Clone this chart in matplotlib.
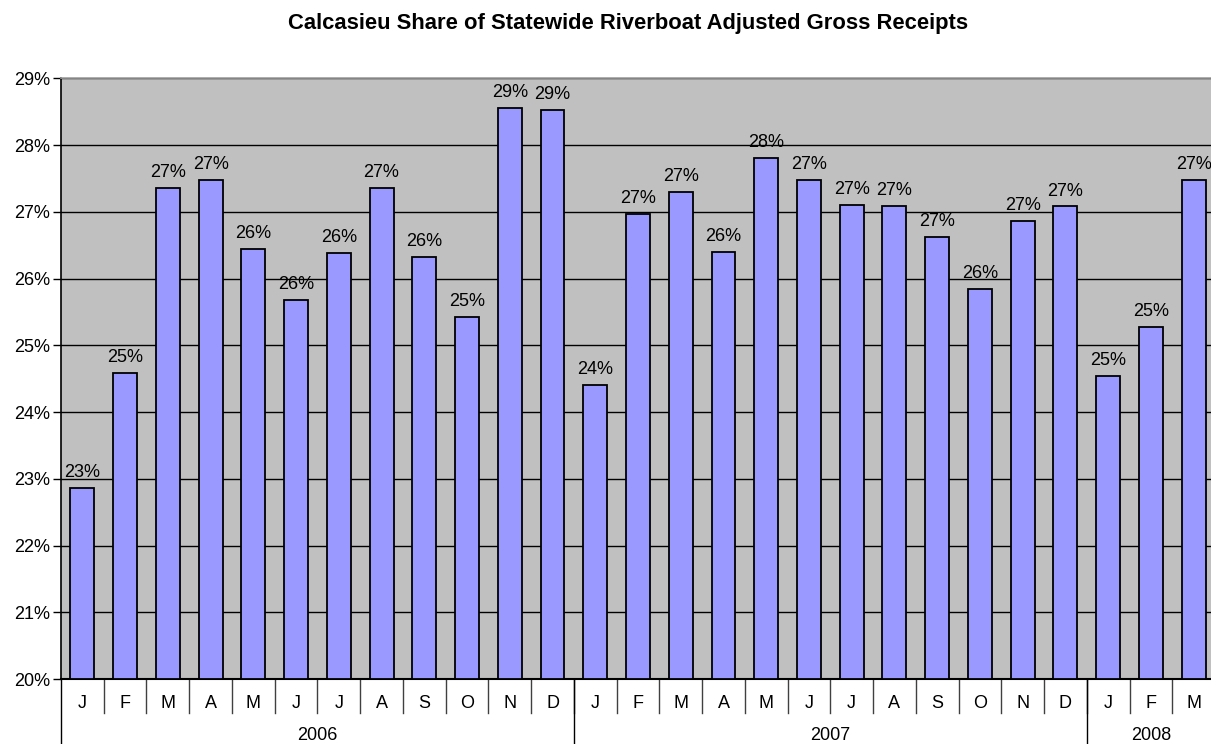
import numpy as np
import matplotlib.pyplot as plt
import matplotlib.transforms as mtransforms

plt.rcParams['font.family'] = ['Liberation Sans', 'DejaVu Sans']

# Calcasieu share of statewide riverboat AGR, Jan 2006 - Mar 2008 (percent)
months = ['J', 'F', 'M', 'A', 'M', 'J', 'J', 'A', 'S', 'O', 'N', 'D',
          'J', 'F', 'M', 'A', 'M', 'J', 'J', 'A', 'S', 'O', 'N', 'D',
          'J', 'F', 'M']
years = ['2006', '2007', '2008']
year_counts = [12, 12, 3]
share = [22.86, 24.58, 27.35, 27.48, 26.44, 25.68, 26.38, 27.36, 26.33, 25.43, 28.56, 28.53,
         24.41, 26.97, 27.30, 26.40, 27.81, 27.48, 27.10, 27.09, 26.62, 25.84, 26.86, 27.08,
         24.54, 25.27, 27.47]

W, H = 1211, 744
FS = 13
fig = plt.figure(figsize=(W / 100, H / 100), dpi=100)
ax = fig.add_axes([61 / W, 1 - 679 / H, 1154 / W, 600.7 / H])
ax.set_facecolor('#C0C0C0')

x = np.arange(len(share))
ax.bar(x, np.array(share) - 20, bottom=20, width=0.56, color='#9999FF',
       edgecolor='black', linewidth=1.3, zorder=3)

for xi, v in zip(x, share):
    ax.annotate(f'{v:.0f}%', (xi, v), xytext=(0, 5), textcoords='offset points',
                ha='center', va='bottom', fontsize=FS, color='black', zorder=4)

ax.set_xlim(-0.5, len(share) - 0.5)
ax.set_ylim(20, 29)
ax.set_yticks(range(20, 30))
ax.set_yticklabels([f'{t}%' for t in range(20, 30)], fontsize=FS)
ax.tick_params(axis='y', length=6, width=1, color='black', pad=2)
ax.set_xticks([])
ax.grid(axis='y', color='black', linewidth=1, zorder=1)

for side in ['top', 'right']:
    ax.spines[side].set_color('#A0A0A0')
    ax.spines[side].set_linewidth(1.2)
ax.spines['left'].set_linewidth(1.2)
ax.spines['bottom'].set_linewidth(1.5)

# two-level category axis drawn below the plot
trans = mtransforms.blended_transform_factory(ax.transData, ax.transAxes)
month_sep = -34 / 600.7
year_sep = -70 / 600.7
for xi, m in zip(x, months):
    ax.text(xi, -24 / 600.7, m, transform=trans, ha='center', va='center', fontsize=FS)
for b in np.arange(1, len(share)) - 0.5:
    ax.plot([b, b], [0, month_sep], transform=trans, color='#404040', lw=1, clip_on=False)

start = 0
for yr, n in zip(years, year_counts):
    ax.plot([start - 0.5, start - 0.5], [0, year_sep], transform=trans, color='black',
            lw=1, clip_on=False)
    ax.text(start + (n - 1) / 2, -57 / 600.7, yr, transform=trans, ha='center',
            va='center', fontsize=FS)
    start += n

fig.text(628 / W, 1 - 29 / H, 'Calcasieu Share of Statewide Riverboat Adjusted Gross Receipts',
         ha='center', va='baseline', fontsize=15.8, fontweight='bold')

fig.savefig('out.png', dpi=100, facecolor='white')
